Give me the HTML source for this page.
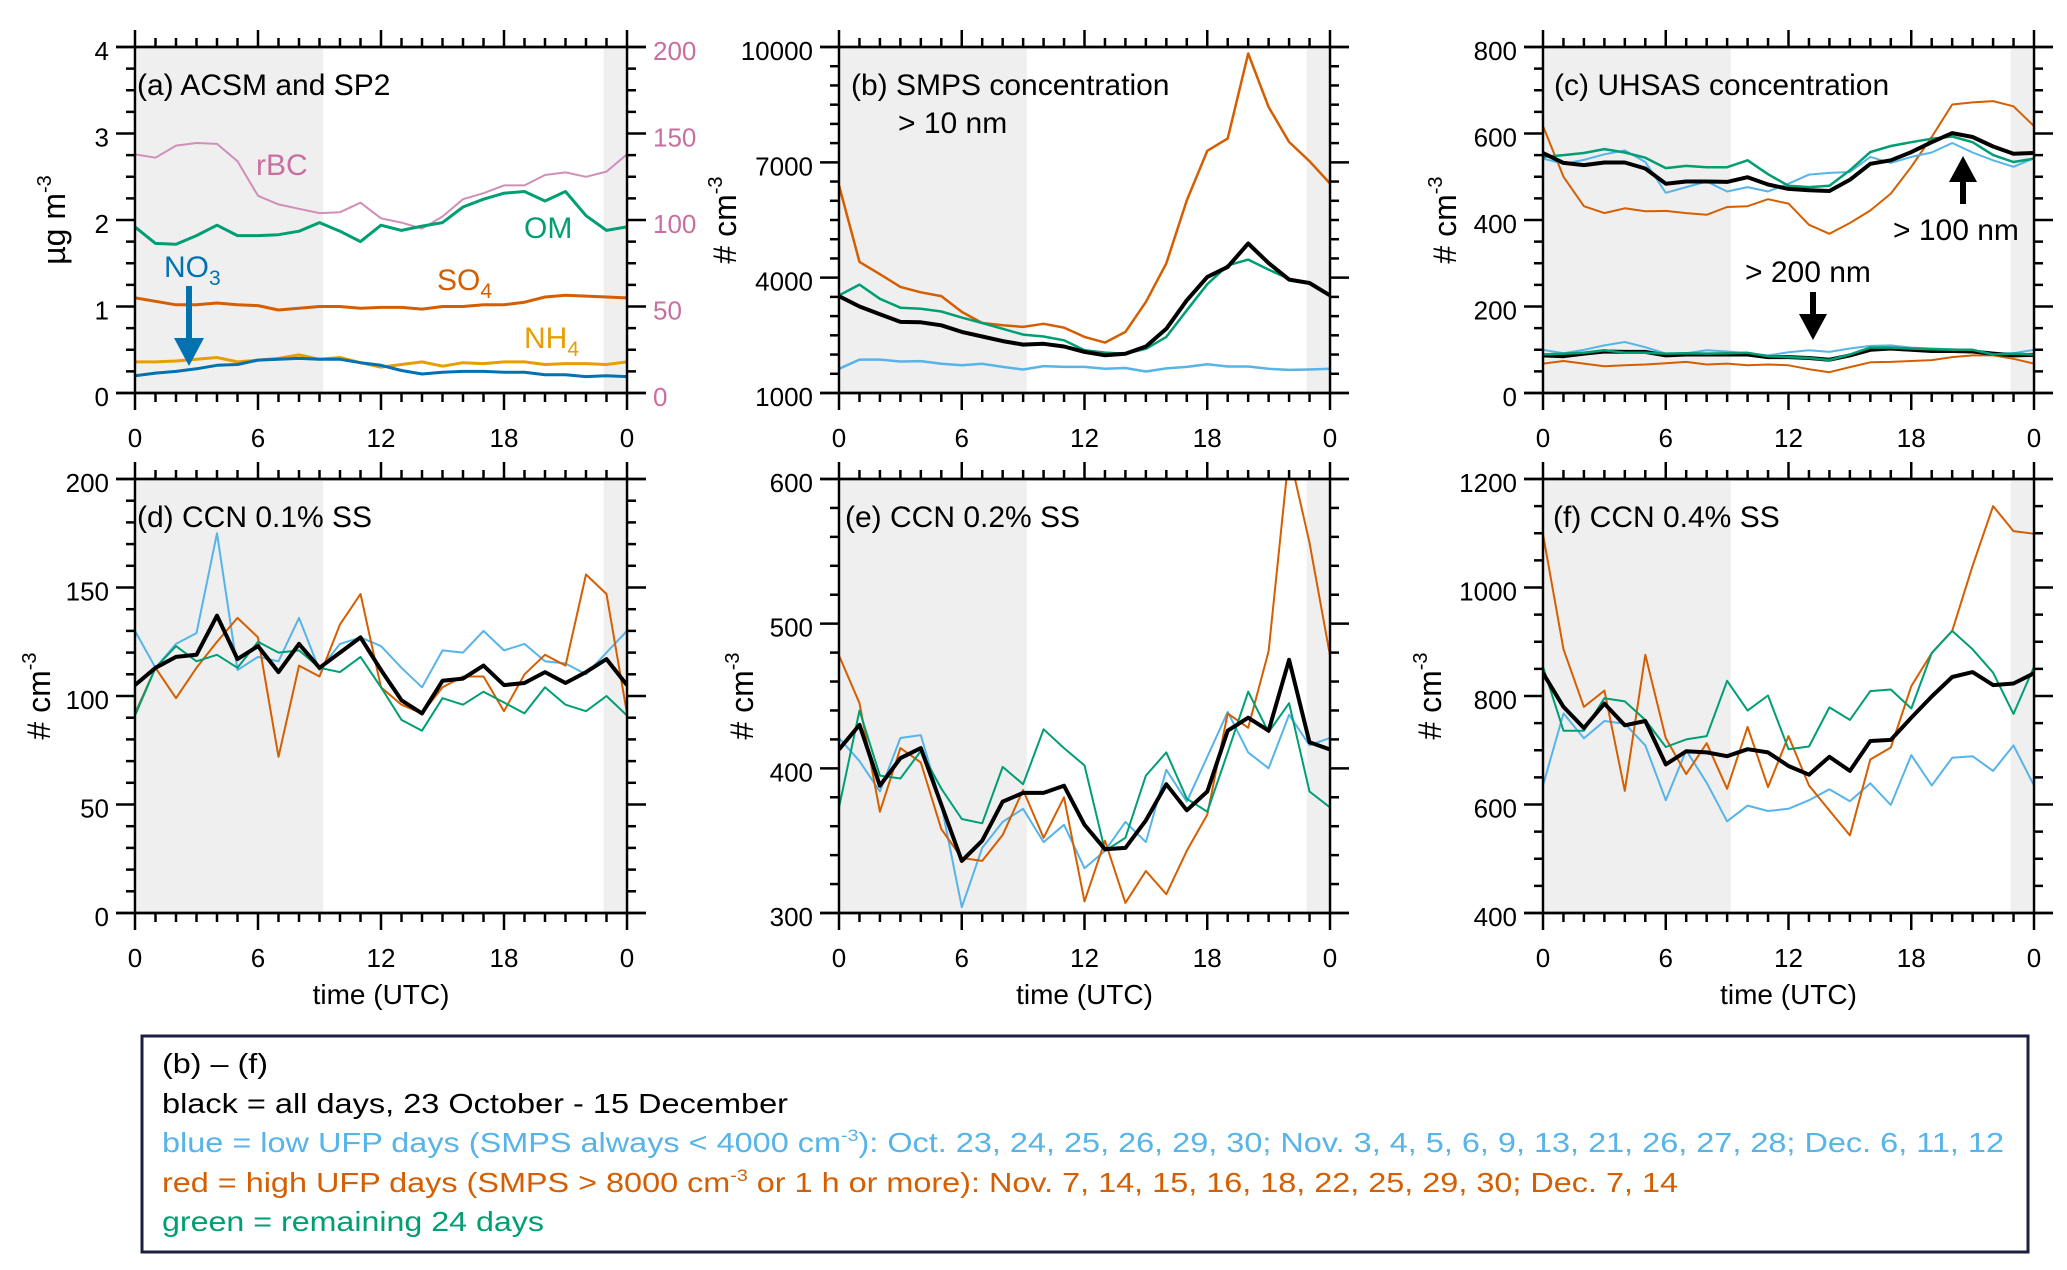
<!DOCTYPE html>
<html><head><meta charset="utf-8"><style>
html,body{margin:0;padding:0;background:#fff}
svg{display:block;font-family:"Liberation Sans",Arial,sans-serif}
</style></head><body>
<svg id="fig" width="2067" height="1270" viewBox="0 0 2067 1270" xmlns="http://www.w3.org/2000/svg">
<defs>
<clipPath id="clipA"><rect x="135" y="47" width="492" height="346"/></clipPath>
<clipPath id="clipB"><rect x="839" y="47" width="491" height="346"/></clipPath>
<clipPath id="clipC"><rect x="1543" y="47" width="491" height="346"/></clipPath>
<clipPath id="clipD"><rect x="135" y="479" width="492" height="434"/></clipPath>
<clipPath id="clipE"><rect x="839" y="479" width="491" height="434"/></clipPath>
<clipPath id="clipF"><rect x="1543" y="479" width="491" height="434"/></clipPath>
</defs>
<g id="panels"></g>
<g id="legend-box">
<rect x="142" y="1036" width="1886" height="216" fill="#fff" stroke="#1a2040" stroke-width="3"/>
<text x="162" y="1073" font-size="28" fill="#000" textLength="106" lengthAdjust="spacingAndGlyphs">(b) – (f)</text>
<text x="162" y="1113" font-size="28" fill="#000" textLength="626" lengthAdjust="spacingAndGlyphs">black = all days, 23 October - 15 December</text>
<text x="162" y="1152" font-size="28" fill="#56b4e9" textLength="1842" lengthAdjust="spacingAndGlyphs">blue = low UFP days (SMPS always &lt; 4000 cm<tspan font-size="17" dy="-11">-3</tspan><tspan dy="11">): Oct. 23, 24, 25, 26, 29, 30; Nov. 3, 4, 5, 6, 9, 13, 21, 26, 27, 28; Dec. 6, 11, 12</tspan></text>
<text x="162" y="1192" font-size="28" fill="#d55e00" textLength="1516" lengthAdjust="spacingAndGlyphs">red = high UFP days (SMPS &gt; 8000 cm<tspan font-size="17" dy="-11">-3</tspan><tspan dy="11"> or 1 h or more): Nov. 7, 14, 15, 16, 18, 22, 25, 29, 30; Dec. 7, 14</tspan></text>
<text x="162" y="1231" font-size="28" fill="#009e73" textLength="382" lengthAdjust="spacingAndGlyphs">green = remaining 24 days</text>
</g>
</svg>
<script>
const hours = [0,1,2,3,4,5,6,7,8,9,10,11,12,13,14,15,16,17,18,19,20,21,22,23,24];
const xTickLabels = ["0","6","12","18","0"];
// (a)
const aOM  = [1.92,1.73,1.72,1.82,1.94,1.82,1.82,1.83,1.87,1.97,1.87,1.75,1.94,1.88,1.93,1.97,2.15,2.24,2.31,2.33,2.22,2.33,2.05,1.88,1.92];
const aRBC = [138,136,143,144.5,144,134,114,109,106.5,104,104.5,110,101,98.5,95,102,112,115.5,120,120,126,127.5,125,128,138];
const aSO4 = [1.1,1.06,1.02,1.02,1.04,1.02,1.01,0.96,0.98,1.0,1.0,0.98,0.99,0.99,0.97,1.0,1.0,1.02,1.02,1.05,1.11,1.13,1.12,1.11,1.1];
const aNH4 = [0.36,0.36,0.37,0.39,0.41,0.36,0.38,0.4,0.44,0.39,0.41,0.35,0.3,0.33,0.36,0.31,0.35,0.34,0.36,0.36,0.33,0.34,0.34,0.33,0.36];
const aNO3 = [0.2,0.23,0.25,0.28,0.32,0.33,0.38,0.39,0.4,0.39,0.39,0.35,0.32,0.26,0.22,0.24,0.25,0.25,0.24,0.24,0.21,0.21,0.19,0.2,0.19];
const aYTicks = [0,1,2,3,4];
const aY2Ticks = [0,50,100,150,200];
// (b)
const bRed   = [6400,4410,4090,3760,3620,3520,3110,2820,2760,2720,2800,2700,2460,2310,2590,3370,4370,6010,7300,7620,9830,8440,7530,7030,6450];
const bBlack = [3520,3250,3050,2850,2840,2760,2590,2470,2350,2260,2280,2210,2070,1980,2020,2210,2670,3410,4020,4280,4890,4380,3950,3860,3540];
const bGreen = [3540,3820,3450,3220,3190,3120,2960,2820,2670,2520,2470,2370,2110,2050,2020,2150,2460,3150,3830,4320,4470,4210,3970,3860,3540];
const bBlue  = [1630,1870,1870,1820,1830,1760,1720,1760,1680,1610,1700,1680,1680,1630,1650,1560,1640,1680,1750,1690,1690,1630,1600,1610,1630];
const bYTicks = [1000,4000,7000,10000];
// (c)
const cRed100   = [617,500,432,416,427,420,421,416,412,430,432,448,438,389,368,393,422,461,523,592,667,672,675,663,617];
const cBlack100 = [555,532,527,533,533,519,484,489,489,488,499,482,472,469,467,493,530,538,557,580,601,592,570,553,555];
const cGreen100 = [546,550,555,564,556,544,520,525,522,522,538,506,479,476,479,515,557,571,580,588,593,580,550,534,542];
const cBlue100  = [542,530,539,552,561,534,463,476,489,466,476,466,484,505,509,511,546,532,546,556,578,556,538,523,543];
const cBlack200 = [87,85,91,96,95,95,87,89,89,89,89,83,83,81,77,87,100,103,100,97,97,96,91,87,88];
const cBlue200  = [100,92,100,110,118,106,91,92,99,96,92,87,94,99,95,103,109,110,105,103,101,99,92,92,100];
const cGreen200 = [89,91,93,99,93,93,91,92,91,92,93,85,83,81,76,89,105,105,103,101,100,100,89,91,89];
const cRed200   = [68,74,68,62,64,66,69,72,66,68,64,66,64,55,48,60,71,72,74,76,83,87,87,79,68];
const cYTicks = [0,200,400,600,800];
// (d)
const dBlack = [105,113,118,119,137,117,123,111,124,113,120,127,112,98,92,107,108,114,105,106,111,106,111,117,105];
const dBlue  = [130,113,124,129,175,112,118,116,136,112,124,127,123,113,104,121,120,130,121,124,116,115,110,120,130];
const dRed   = [92,113,99,113,125,136,127,72,114,109,133,147,104,96,92,104,109,109,93,110,119,114,156,147,92];
const dGreen = [91,113,123,116,119,113,125,120,121,113,111,118,104,89,84,99,96,102,97,92,104,96,93,100,91];
const dYTicks = [0,50,100,150,200];
// (e)
const eBlack = [413,430,388,407,414,375,336,350,377,383,383,388,361,344,345,364,389,371,384,426,435,426,475,418,413];
const eBlue  = [421,405,384,421,423,375,304,345,363,372,349,361,331,343,363,349,399,377,408,439,411,400,437,416,421];
const eRed   = [478,445,370,414,404,358,338,336,354,385,352,380,308,350,307,329,313,343,368,438,428,481,618,556,478];
const eGreen = [373,440,395,393,412,386,365,362,401,389,427,414,402,343,352,395,411,379,370,411,453,425,445,384,373];
const eYTicks = [300,400,500,600];
// (f)
const fBlack = [842,780,741,786,746,754,674,698,696,689,702,696,671,655,688,662,717,719,760,799,835,844,820,823,842];
const fBlue  = [635,768,722,754,749,709,608,700,640,569,598,588,592,608,628,606,639,599,691,635,686,689,662,709,635];
const fRed   = [1098,886,780,810,625,876,722,656,713,629,743,632,726,635,589,543,683,705,818,879,920,1040,1150,1104,1099];
const fGreen = [854,736,736,796,790,756,706,720,726,828,773,801,702,707,779,756,809,812,777,879,920,886,843,767,854];
const fYTicks = [400,600,800,1000,1200];

const NS = "http://www.w3.org/2000/svg";
const root = document.getElementById('panels');
const C = {black:"#000", blue:"#56b4e9", red:"#d55e00", green:"#009e73", nh4:"#e69f00", no3:"#0072b2", rbc:"#d08fb6"};

function mk(tag, attrs, parent){
  const e = document.createElementNS(NS, tag);
  for (const k in attrs) e.setAttribute(k, attrs[k]);
  (parent||root).appendChild(e);
  return e;
}

function panel(p){
  const g = mk('g', {});
  
  
  const xs = h => p.x0 + (h/24)*(p.x1-p.x0);
  const ys = v => p.y1 - (v-p.ymin)/(p.ymax-p.ymin)*(p.y1-p.y0);
  const s1 = mk('rect', {x:xs(0)+2, y:p.y0+2, width:xs(9.18)-xs(0)-2, height:p.y1-p.y0-2, fill:"#efefef"}, g);
  
  
  const s2 = mk('rect', {x:xs(22.86), y:p.y0+2, width:xs(24)-xs(22.86)-2, height:p.y1-p.y0-2, fill:"#efefef"}, g);
  
  
  const sg = mk('g', {'clip-path':'url(#'+p.clip+')'}, g);
  p.series.forEach(s => {
    const sc = s.scale || ys;
    const d = hours.map((h,i)=> (i?'L':'M') + xs(h).toFixed(1) + ' ' + sc(s.data[i]).toFixed(1)).join(' ');
    const path = mk('path', {d:d, fill:'none', stroke:s.color, 'stroke-width':s.w, 'stroke-linejoin':'round'}, sg);
    
    
  });
  const ax = mk('g', {stroke:'#000', 'stroke-width':2.5, fill:'none'}, g);
  
  
  mk('rect', {x:p.x0, y:p.y0, width:p.x1-p.x0, height:p.y1-p.y0}, ax);
  mk('line', {x1:p.x0-19, x2:p.x1+19, y1:p.y0, y2:p.y0}, ax);
  mk('line', {x1:p.x0-19, x2:p.x1+19, y1:p.y1, y2:p.y1}, ax);
  for (let h=0; h<=24; h++){
    const L = h%6===0 ? 17 : 9;
    mk('line', {x1:xs(h), x2:xs(h), y1:p.y1, y2:p.y1+L}, ax);
    mk('line', {x1:xs(h), x2:xs(h), y1:p.y0, y2:p.y0-L}, ax);
  }
  for (let v=p.ymin; v<=p.ymax+1e-9; v+=p.minor){
    const major = p.yticks.some(t=>Math.abs(t-v)<1e-6);
    const L = major ? 19 : 9;
    mk('line', {x1:p.x0, x2:p.x0-L, y1:ys(v), y2:ys(v)}, ax);
    mk('line', {x1:p.x1, x2:p.x1+L, y1:ys(v), y2:ys(v)}, ax);
  }
  [0,6,12,18,24].forEach((h,i)=>{
    const t = mk('text', {x:xs(h), y:p.y1+54, 'font-size':26, 'text-anchor':'middle'}, g);
    t.textContent = xTickLabels[i];
    
    
  });
  p.yticks.forEach(v=>{
    const t = mk('text', {x:p.x0-26, y:ys(v)+13, 'font-size':26, 'text-anchor':'end'}, g);
    t.textContent = String(v);
    
    
  });
  const yt = mk('text', {transform:'translate('+p.ytx+','+((p.y0+p.y1)/2)+') rotate(-90)', 'font-size':32, 'text-anchor':'middle'}, g);
  yt.innerHTML = p.ytitle + '<tspan font-size="20" dy="-14">-3</tspan>';
  
  
  const tt = mk('text', {x:p.tx, y:p.y0+48, 'font-size':30}, g);
  tt.textContent = p.title;
  
  
  if (p.xtitle){
    const xt = mk('text', {x:(p.x0+p.x1)/2, y:p.y1+91, 'font-size':28, 'text-anchor':'middle'}, g);
    xt.textContent = 'time (UTC)';
    
    
  }
  return {g, xs, ys};
}

const A = {x0:135,x1:627,y0:47,y1:393,ymin:0,ymax:4};
const aY2 = v => A.y1 - v/200*(A.y1-A.y0);
const pa = panel(Object.assign(A,{name:'panel-a-acsm-sp2', clip:'clipA', minor:0.25, yticks:aYTicks, ytx:65, ytitle:'µg m', tx:137, title:'(a) ACSM and SP2',
  series:[
    {name:'rbc-line', data:aRBC, color:C.rbc, w:2, scale:aY2},
    {name:'om-line', data:aOM, color:C.green, w:3},
    {name:'so4-line', data:aSO4, color:C.red, w:3},
    {name:'nh4-line', data:aNH4, color:C.nh4, w:3},
    {name:'no3-line', data:aNO3, color:C.no3, w:3}
  ]}));
aY2Ticks.forEach(v=>{
  const t = mk('text', {x:653, y:aY2(v)+13, 'font-size':26, fill:'#c86fa0'}, pa.g);
  t.textContent = String(v);
  
  
});
function label(g, x, y, txt, sub, color, name){
  const t = mk('text', {x:x, y:y, 'font-size':30, fill:color}, g);
  t.innerHTML = txt + (sub ? '<tspan font-size="21" dy="8">'+sub+'</tspan>' : '');
  
  
}
label(pa.g, 256, 175, 'rBC', '', '#c86fa0', 'rbc-label');
label(pa.g, 524, 238, 'OM', '', C.green, 'om-label');
label(pa.g, 437, 290, 'SO', '4', C.red, 'so4-label');
label(pa.g, 524, 348, 'NH', '4', C.nh4, 'nh4-label');
label(pa.g, 164, 277, 'NO', '3', C.no3, 'no3-label');
const ar1 = mk('path', {d:'M186 286 L192 286 L192 338 L204 338 L189 366 L174 338 L186 338 Z', fill:C.no3}, pa.g);



const pb = panel({name:'panel-b-smps', x0:839,x1:1330,y0:47,y1:393,ymin:1000,ymax:10000, clip:'clipB', minor:500, yticks:bYTicks, ytx:736, ytitle:'# cm', tx:851, title:'(b) SMPS concentration',
  series:[
    {name:'smps-blue', data:bBlue, color:C.blue, w:2.5},
    {name:'smps-red', data:bRed, color:C.red, w:2.5},
    {name:'smps-green', data:bGreen, color:C.green, w:2.5},
    {name:'smps-black', data:bBlack, color:C.black, w:4}
  ]});
label(pb.g, 898, 133, '&gt; 10 nm', '', '#000', 'size-cutoff-label');

const pc = panel({name:'panel-c-uhsas', x0:1543,x1:2034,y0:47,y1:393,ymin:0,ymax:800, clip:'clipC', minor:50, yticks:cYTicks, ytx:1456, ytitle:'# cm', tx:1554, title:'(c) UHSAS concentration',
  series:[
    {name:'uhsas100-red', data:cRed100, color:C.red, w:2},
    {name:'uhsas100-blue', data:cBlue100, color:C.blue, w:2},
    {name:'uhsas100-green', data:cGreen100, color:C.green, w:2.5},
    {name:'uhsas100-black', data:cBlack100, color:C.black, w:4},
    {name:'uhsas200-red', data:cRed200, color:C.red, w:2},
    {name:'uhsas200-blue', data:cBlue200, color:C.blue, w:2},
    {name:'uhsas200-black', data:cBlack200, color:C.black, w:4},
    {name:'uhsas200-green', data:cGreen200, color:C.green, w:2.5}
  ]});
label(pc.g, 1893, 240, '&gt; 100 nm', '', '#000', 'gt100-label');
label(pc.g, 1745, 282, '&gt; 200 nm', '', '#000', 'gt200-label');
const ar2 = mk('path', {d:'M1960 204 L1966 204 L1966 182 L1977 182 L1963 156 L1949 182 L1960 182 Z', fill:'#000'}, pc.g);


const ar3 = mk('path', {d:'M1810 292 L1816 292 L1816 314 L1827 314 L1813 340 L1799 314 L1810 314 Z', fill:'#000'}, pc.g);



panel({name:'panel-d-ccn01', x0:135,x1:627,y0:479,y1:913,ymin:0,ymax:200, clip:'clipD', minor:10, yticks:dYTicks, ytx:50, ytitle:'# cm', tx:137, title:'(d) CCN 0.1% SS', xtitle:true,
  series:[
    {name:'ccn01-blue', data:dBlue, color:C.blue, w:2},
    {name:'ccn01-red', data:dRed, color:C.red, w:2},
    {name:'ccn01-green', data:dGreen, color:C.green, w:2},
    {name:'ccn01-black', data:dBlack, color:C.black, w:4}
  ]});
panel({name:'panel-e-ccn02', x0:839,x1:1330,y0:479,y1:913,ymin:300,ymax:600, clip:'clipE', minor:20, yticks:eYTicks, ytx:753, ytitle:'# cm', tx:845, title:'(e) CCN 0.2% SS', xtitle:true,
  series:[
    {name:'ccn02-blue', data:eBlue, color:C.blue, w:2},
    {name:'ccn02-red', data:eRed, color:C.red, w:2},
    {name:'ccn02-green', data:eGreen, color:C.green, w:2},
    {name:'ccn02-black', data:eBlack, color:C.black, w:4}
  ]});
panel({name:'panel-f-ccn04', x0:1543,x1:2034,y0:479,y1:913,ymin:400,ymax:1200, clip:'clipF', minor:50, yticks:fYTicks, ytx:1441, ytitle:'# cm', tx:1553, title:'(f) CCN 0.4% SS', xtitle:true,
  series:[
    {name:'ccn04-blue', data:fBlue, color:C.blue, w:2},
    {name:'ccn04-red', data:fRed, color:C.red, w:2},
    {name:'ccn04-green', data:fGreen, color:C.green, w:2},
    {name:'ccn04-black', data:fBlack, color:C.black, w:4}
  ]});
</script>
</body></html>
